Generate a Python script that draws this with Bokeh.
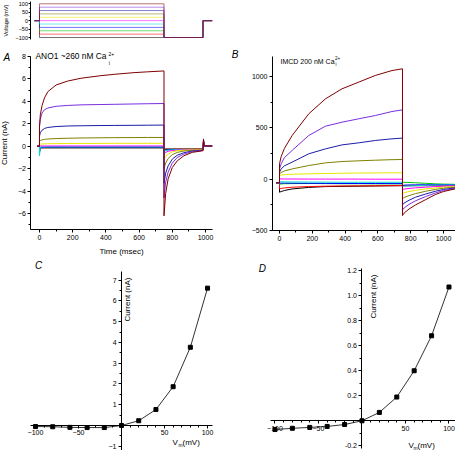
import numpy as np
from bokeh.plotting import figure
from bokeh.layouts import column, row
from bokeh.models import (Label, SingleIntervalTicker, FixedTicker, Range1d,
                          PrintfTickFormatter)
from bokeh.embed import file_html
from bokeh.resources import INLINE

# ---------------- data ----------------
STEPS_MV = [-100, -80, -60, -40, -20, 0, 20, 40, 60, 80, 100]
COLORS = ["#000000", "#ff0000", "#00c000", "#0000ff", "#00d8d8", "#ff00ff",
          "#e8e800", "#808000", "#1c1ca8", "#7b2ee0", "#800000"]

# voltage protocol (ms)
PROTO_T = [-30, 0, 0, 750, 750, 985, 985, 1040]
HOLD_MV = 0
TAIL_MV = -100

# Panel A (ANO1) current traces, nA
TA = [-15, 0, 0, 5, 15, 30, 50, 100, 170, 250, 370, 450, 570, 650, 750,
      750, 760, 775, 800, 830, 870, 920, 985, 988, 992, 1040]
A_P100 = [0, 0, 1.7, 2.8, 3.6, 4.3, 4.85, 5.45, 5.8, 6.05, 6.28, 6.4, 6.55, 6.62, 6.7,
          -6.2, -4.2, -2.9, -1.9, -1.3, -0.85, -0.55, -0.4, 0.65, 0.02, 0.02]
A_P80 = [0, 0, 1.8, 2.4, 2.95, 3.25, 3.4, 3.55, 3.63, 3.68, 3.71, 3.73, 3.76, 3.78, 3.8,
         -4.6, -3.2, -2.3, -1.5, -1.0, -0.7, -0.48, -0.38, 0.6, 0.02, 0.02]
A_P60 = [0, 0, 0.9, 1.2, 1.42, 1.58, 1.67, 1.75, 1.8, 1.82, 1.84, 1.85, 1.86, 1.87, 1.88,
         -3.3, -2.4, -1.75, -1.15, -0.8, -0.58, -0.43, -0.36, 0.55, 0.02, 0.02]
A_P40 = [0, 0, 0.42, 0.5, 0.56, 0.61, 0.64, 0.68, 0.71, 0.73, 0.75, 0.76, 0.77, 0.78, 0.78,
         -2.0, -1.5, -1.1, -0.75, -0.55, -0.43, -0.37, -0.34, 0.5, 0.02, 0.02]
A_P20 = [0, 0, 0.12, 0.18, 0.2, 0.21, 0.22, 0.23, 0.24, 0.25, 0.25, 0.26, 0.26, 0.26, 0.26,
         -1.2, -0.9, -0.7, -0.5, -0.4, -0.35, -0.33, -0.32, 0.45, 0.02, 0.02]
A_0 = [0, 0, 0.03, 0.02, 0.02, 0.02, 0.02, 0.02, 0.02, 0.02, 0.02, 0.02, 0.02, 0.02, 0.02,
       -0.7, -0.55, -0.45, -0.38, -0.34, -0.32, -0.31, -0.3, 0.45, 0.02, 0.02]
A_M20 = [0, 0, -0.85, -0.08, -0.06, -0.06, -0.05, -0.05, -0.05, -0.05, -0.05, -0.05, -0.05, -0.05, -0.05,
         -0.45, -0.4, -0.35, -0.32, -0.3, -0.3, -0.3, -0.3, 0.4, 0.02, 0.02]
A_M40 = [0, 0, -0.6, -0.1, -0.09, -0.09, -0.08, -0.08, -0.08, -0.08, -0.08, -0.08, -0.08, -0.08, -0.08,
         -0.38, -0.34, -0.31, -0.3, -0.3, -0.29, -0.29, -0.29, 0.4, 0.02, 0.02]
A_M60 = [0, 0, -0.5, -0.12, -0.11, -0.11, -0.1, -0.1, -0.1, -0.1, -0.1, -0.1, -0.1, -0.1, -0.1,
         -0.32, -0.3, -0.29, -0.28, -0.28, -0.28, -0.28, -0.28, 0.4, 0.02, 0.02]
A_M80 = [0, 0, -0.45, -0.14, -0.13, -0.13, -0.12, -0.12, -0.12, -0.12, -0.12, -0.12, -0.12, -0.12, -0.12,
         -0.28, -0.27, -0.27, -0.26, -0.26, -0.26, -0.26, -0.26, 0.4, 0.02, 0.02]
A_M100 = [0, 0, -0.4, -0.16, -0.15, -0.15, -0.15, -0.15, -0.15, -0.15, -0.15, -0.15, -0.15, -0.15, -0.15,
          -0.25, -0.25, -0.25, -0.25, -0.25, -0.25, -0.25, -0.25, 0.4, 0.02, 0.02]
A_TRACES = [A_M100, A_M80, A_M60, A_M40, A_M20, A_0, A_P20, A_P40, A_P60, A_P80, A_P100]

# Panel B (IMCD) current traces, pA
TB = [-20, 0, 0, 10, 30, 77, 178, 280, 381, 483, 584, 686, 750,
      750, 760, 790, 830, 890, 950, 1000, 1070]
B_P100 = [-35, -35, 150, 220, 300, 425, 636, 782, 880, 945, 1010, 1058, 1075,
          -354, -330, -290, -250, -200, -150, -120, -95]
B_P80 = [-35, -35, 100, 150, 210, 280, 425, 516, 555, 588, 620, 659, 675,
         -300, -280, -245, -210, -170, -135, -110, -90]
B_P60 = [-35, -35, 68, 100, 130, 166, 247, 295, 334, 354, 377, 393, 400,
         -250, -232, -205, -175, -145, -118, -100, -85]
B_P40 = [-35, -35, 52, 65, 80, 100, 133, 159, 172, 179, 185, 190, 192,
         -190, -178, -160, -140, -118, -100, -88, -78]
B_P20 = [-35, -35, 36, 40, 44, 48, 52, 55, 58, 60, 61, 62, 62,
         -140, -132, -120, -108, -95, -85, -78, -72]
B_0 = [-35, -35, 5, 3, 2, 2, 1, 1, 1, 1, 0, 0, 0,
       -100, -96, -90, -84, -78, -72, -68, -65]
B_M20 = [-35, -35, -25, -25, -26, -27, -28, -29, -30, -30, -30, -30, -30,
         -70, -68, -66, -63, -60, -58, -57, -56]
B_M40 = [-35, -35, -40, -38, -38, -39, -40, -41, -42, -42, -42, -43, -43,
         -60, -58, -56, -55, -54, -54, -54, -54]
B_M60 = [-35, -35, -50, -46, -44, -43, -42, -43, -44, -44, -45, -45, -45,
         -30, -30, -32, -35, -40, -45, -48, -50]
B_M80 = [-35, -35, -94, -90, -85, -78, -72, -68, -66, -65, -64, -63, -62,
         -62, -62, -62, -62, -62, -62, -62, -62]
B_M100 = [-35, -35, -127, -120, -110, -95, -80, -72, -70, -68, -66, -64, -63,
          -63, -63, -63, -63, -63, -63, -63, -63]
B_TRACES = [B_M100, B_M80, B_M60, B_M40, B_M20, B_0, B_P20, B_P40, B_P60, B_P80, B_P100]

# I-V relations
VM = [-100, -80, -60, -40, -20, 0, 20, 40, 60, 80, 100]
IV_ANO1 = [-0.05, -0.06, -0.09, -0.1, -0.1, 0.0, 0.23, 0.77, 1.87, 3.77, 6.62]
IV_IMCD = [-0.07, -0.06, -0.053, -0.045, -0.03, 0.0, 0.067, 0.19, 0.40, 0.68, 1.07]

FONT = "Liberation Sans"


# ---------------- helpers ----------------
def make_fig(w, h, xr, yr):
    p = figure(width=w, height=h, x_range=Range1d(*xr), y_range=Range1d(*yr),
               output_backend="svg", toolbar_location=None, tools="",
               min_border_left=0, min_border_right=0,
               min_border_top=0, min_border_bottom=0)
    p.outline_line_color = None
    p.grid.visible = False
    return p


def style_axis(ax, fs="7px", tick_out=3, minor_out=2):
    ax.axis_line_color = "black"
    ax.axis_line_width = 1
    ax.major_tick_line_color = "black"
    ax.minor_tick_line_color = "black"
    ax.major_tick_in = 0
    ax.major_tick_out = tick_out
    ax.minor_tick_in = 0
    ax.minor_tick_out = minor_out
    ax.major_label_text_font = FONT
    ax.major_label_text_font_size = fs
    ax.major_label_text_color = "black"
    ax.major_label_standoff = 2
    ax.axis_label_text_font = FONT
    ax.axis_label_text_font_style = "normal"
    ax.axis_label_text_color = "black"


def txt(p, x, y, s, size, align="left", baseline="middle", style="normal", angle=0.0):
    p.add_layout(Label(x=x, y=y, text=s, text_font=FONT, text_font_size=size,
                       text_align=align, text_baseline=baseline,
                       text_font_style=style, angle=angle, text_color="black"))


XR_A = (-234.9, 1150.6)
A_X0 = -51.2      # where the y axis of A / voltage panel sits (ms)

# ---------------- voltage protocol panel ----------------
pv = make_fig(230, 46, XR_A, (-153.4, 119.6))
pv.xaxis.visible = False
for v, c in zip(STEPS_MV, COLORS):
    vy = [HOLD_MV, HOLD_MV, v, v, TAIL_MV, TAIL_MV, HOLD_MV, HOLD_MV]
    pv.line(PROTO_T, vy, color=c, line_width=1, line_alpha=0.55)
yv = pv.yaxis[0]
style_axis(yv, fs="5.5px", tick_out=2, minor_out=1)
yv.fixed_location = A_X0
yv.bounds = (-112, 112)
yv.ticker = SingleIntervalTicker(interval=50, num_minor_ticks=2)
yv.axis_label = "Voltage (mV)"
yv.axis_label_text_font_size = "5.5px"
yv.axis_label_standoff = 3
yv.major_label_standoff = 1

# ---------------- panel A ----------------
pa = make_fig(230, 212, XR_A, (-9.997, 8.876))
for tr, c in zip(A_TRACES, COLORS):
    pa.line(TA, tr, color=c, line_width=1)
xa, ya = pa.xaxis[0], pa.yaxis[0]
style_axis(xa)
style_axis(ya)
xa.fixed_location = -7.42
ya.fixed_location = A_X0
xa.bounds = (A_X0, 1042)
ya.bounds = (-7.42, 8)
xa.ticker = SingleIntervalTicker(interval=200, num_minor_ticks=2)
ya.ticker = SingleIntervalTicker(interval=2, num_minor_ticks=2)
xa.axis_label = "Time (msec)"
ya.axis_label = "Current (nA)"
xa.axis_label_text_font_size = "8px"
ya.axis_label_text_font_size = "8px"
xa.axis_label_standoff = 4
ya.axis_label_standoff = 6
txt(pa, -196, 7.9, "A", "10px", align="center", style="italic")
txt(pa, -24, 7.99, "ANO1  ~260 nM Ca", "8.4px")
txt(pa, 416, 8.17, "2+", "5px")
txt(pa, 417, 7.45, "i", "5px")

# ---------------- panel B ----------------
B_X0 = -42.7
pb = make_fig(225, 212, (-298.8, 1073.2), (-772.2, 1292))
for tr, c in zip(B_TRACES, COLORS):
    pb.line(TB, tr, color=c, line_width=1)
xb, yb = pb.xaxis[0], pb.yaxis[0]
style_axis(xb)
style_axis(yb)
xb.fixed_location = -500
yb.fixed_location = B_X0
xb.bounds = (B_X0, 1073)
yb.bounds = (-500, 1195)
xb.ticker = SingleIntervalTicker(interval=200, num_minor_ticks=2)
yb.ticker = SingleIntervalTicker(interval=500, num_minor_ticks=2)
txt(pb, -271, 1214, "B", "10px", align="center", style="italic")
txt(pb, 6, 1146, "IMCD 200 nM Ca", "7px")
txt(pb, 338, 1180, "2+", "4.5px")
txt(pb, 341, 1117, "i", "4.5px")

# ---------------- panel C ----------------
pc = make_fig(230, 192, (-140.7, 126.7), (-1.205, 8.048))
pc.line(VM, IV_ANO1, color="#333333", line_width=1)
pc.scatter(VM, IV_ANO1, marker="square", size=4, color="black")
for ax in (pc.xaxis[0], pc.yaxis[0]):
    style_axis(ax)
    ax.fixed_location = 0
pc.xaxis[0].ticker = FixedTicker(ticks=[-100, -50, 50, 100],
                                 minor_ticks=list(range(-100, 101, 10)))
pc.yaxis[0].ticker = FixedTicker(ticks=[-1, 1, 2, 3, 4, 5, 6, 7],
                                 minor_ticks=[-0.5, 0.5, 1.5, 2.5, 3.5, 4.5, 5.5, 6.5])
pc.xaxis[0].bounds = (-106, 106)
pc.yaxis[0].bounds = (-1.2, 7.4)
txt(pc, -96.5, 7.71, "C", "10px", align="center", style="italic")
txt(pc, 7.0, 7.13, "Current (nA)", "8px", align="right", angle=np.pi / 2)
txt(pc, 59.3, -0.84, "V", "8px")
txt(pc, 66.3, -0.96, "m", "5px")
txt(pc, 70.9, -0.84, "(mV)", "8px")

# ---------------- panel D ----------------
pd_ = make_fig(225, 192, (-151.1, 107.5), (-0.2376, 1.298))
pd_.line(VM, IV_IMCD, color="#333333", line_width=1)
pd_.scatter(VM, IV_IMCD, marker="square", size=4, color="black")
for ax in (pd_.xaxis[0], pd_.yaxis[0]):
    style_axis(ax)
    ax.fixed_location = 0
pd_.xaxis[0].ticker = FixedTicker(ticks=[-100, -50, 50, 100],
                                  minor_ticks=list(range(-100, 101, 10)))
pd_.yaxis[0].ticker = FixedTicker(ticks=[-0.2, 0.2, 0.4, 0.6, 0.8, 1.0, 1.2],
                                  minor_ticks=[-0.1, 0.1, 0.3, 0.5, 0.7, 0.9, 1.1])
pd_.yaxis[0].formatter = PrintfTickFormatter(format="%.1f")
pd_.xaxis[0].bounds = (-105, 107)
pd_.yaxis[0].bounds = (-0.22, 1.22)
txt(pd_, -114.4, 1.218, "D", "10px", align="center", style="italic")
txt(pd_, 13.2, 1.17, "Current (nA)", "8px", align="right", angle=np.pi / 2)
txt(pd_, 53.4, -0.194, "V", "8px")
txt(pd_, 59.2, -0.214, "m", "5px")
txt(pd_, 63.8, -0.194, "(mV)", "8px")

layout = column(pv, row(pa, pb), row(pc, pd_))
open("out.html", "w").write(file_html(layout, INLINE))
